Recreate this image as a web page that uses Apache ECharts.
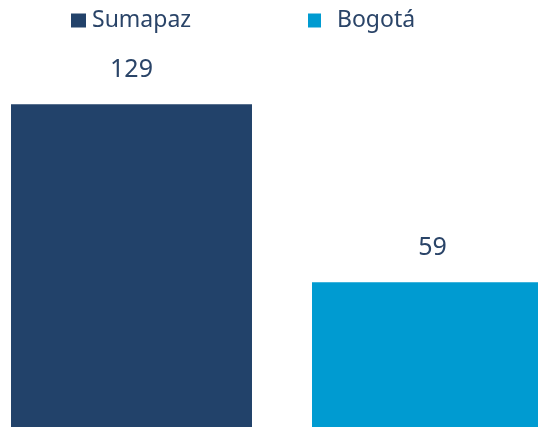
<!DOCTYPE html>
<html><head><meta charset="utf-8">
<script src="https://cdn.jsdelivr.net/npm/echarts@6/dist/echarts.min.js"></script>
<style>html,body{margin:0;padding:0;background:#fff;overflow:hidden;width:538px;height:427px}#c{width:553px;height:432px}</style>
</head><body><div id="c"></div>
<script>
const categories = [''];
const seriesNames = ['Sumapaz', 'Bogotá'];
const sumapazValues = [129];
const bogotaValues = [59];
const colors = ['#22426A', '#009BD1'];
const textColor = '#2A4468';
const font = 'Noto Sans';
const chart = echarts.init(document.getElementById('c'));
chart.setOption({
  animation: false,
  legend: [
    { data: [seriesNames[0]], left: 66, top: 4, itemWidth: 15, itemHeight: 14, itemGap: 5,
      icon: 'rect', textStyle: { color: textColor, fontSize: 23, fontFamily: font, padding: [0,0,0,1] } },
    { data: [seriesNames[1]], left: 303, top: 4, itemWidth: 13, itemHeight: 14,
      icon: 'rect', textStyle: { color: textColor, fontSize: 23, fontFamily: font, padding: [0,0,0,11] } }
  ],
  grid: { left: 11, right: 0, top: 51, bottom: 0 },
  xAxis: { type: 'category', data: categories, show: false },
  yAxis: { type: 'value', min: 0, max: 150, show: false },
  series: [
    { name: seriesNames[0], type: 'bar', data: sumapazValues, barWidth: 241, barGap: '24.9%',
      itemStyle: { color: colors[0] },
      label: { show: true, position: 'top', distance: 22, color: textColor, fontSize: 25, fontFamily: font } },
    { name: seriesNames[1], type: 'bar', data: bogotaValues, barWidth: 241,
      itemStyle: { color: colors[1] },
      label: { show: true, position: 'top', distance: 22, color: textColor, fontSize: 25, fontFamily: font } }
  ]
});
</script></body></html>
